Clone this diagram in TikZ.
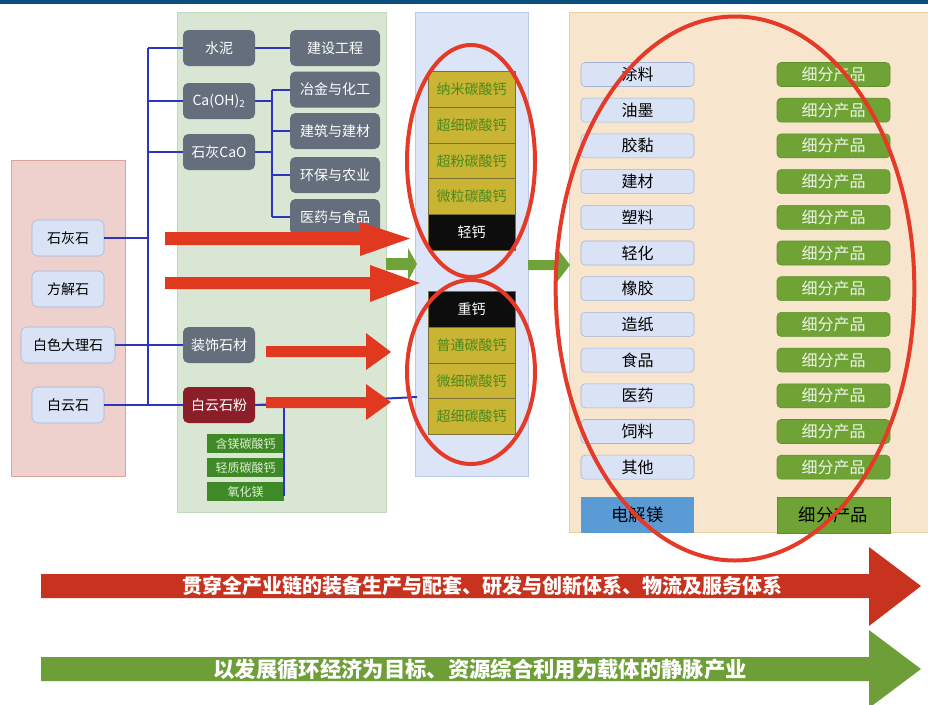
\documentclass[tikz,border=0pt]{standalone}
\usepackage{fontspec}
\setmainfont{Noto Sans CJK SC}
\usetikzlibrary{positioning, calc}
\usepackage{xcolor}
\definecolor{topbar}{HTML}{0B4F7E}
\definecolor{pinkpanel}{HTML}{EED0CD}
\definecolor{pinkedge}{HTML}{DBA39E}
\definecolor{greenpanel}{HTML}{D9E6D3}
\definecolor{greenedge}{HTML}{C3D7BA}
\definecolor{bluepanel}{HTML}{DCE5F7}
\definecolor{blueedge}{HTML}{B9C9E9}
\definecolor{sandpanel}{HTML}{F7E5CD}
\definecolor{sandedge}{HTML}{EACF9F}
\definecolor{srcfill}{HTML}{DAE3F5}
\definecolor{srcedge}{HTML}{A3B4D8}
\definecolor{procgray}{HTML}{646E7C}
\definecolor{dolored}{HTML}{8B1E28}
\definecolor{minigreen}{HTML}{3F8A26}
\definecolor{minitext}{HTML}{DDEED0}
\definecolor{cellolive}{HTML}{C9B434}
\definecolor{celledge}{HTML}{7C7034}
\definecolor{cellgreen}{HTML}{4A8A1C}
\definecolor{subgreen}{HTML}{6FA336}
\definecolor{subedge}{HTML}{5E8F2A}
\definecolor{subtext}{HTML}{EEF5E6}
\definecolor{mgblue}{HTML}{5B9BD5}
\definecolor{linkblue}{HTML}{2B35C0}
\definecolor{arrred}{HTML}{E0391F}
\definecolor{ringred}{HTML}{E53A28}
\definecolor{arrgreen}{HTML}{6FA33A}
\definecolor{bandred}{HTML}{C7331F}
\definecolor{bandgreen}{HTML}{6E9E37}

\begin{document}
\begin{tikzpicture}[x=0.75pt, y=-0.75pt,
    src/.style={draw=srcedge, fill=srcfill, rounded corners=4pt, inner sep=0pt,
                minimum width=54pt, minimum height=27pt, font=\fontsize{10.5}{12}\selectfont},
    proc/.style={fill=procgray, text=white, rounded corners=4pt, inner sep=0pt,
                 minimum width=54pt, minimum height=27pt, font=\fontsize{10.5}{12}\selectfont},
    usebox/.style={proc, minimum width=67.5pt},
    mini/.style={fill=minigreen, text=minitext, inner sep=0pt, minimum width=57.75pt,
                 minimum height=14.25pt, font=\fontsize{9}{10}\selectfont},
    cell/.style={fill=cellolive, draw=celledge, text=cellgreen, inner sep=0pt,
                 minimum width=65.25pt, minimum height=26.8pt, font=\fontsize{10.5}{12}\selectfont},
    blackcell/.style={cell, fill=black!95, text=white},
    app/.style={draw=srcedge, fill=srcfill, rounded corners=3pt, inner sep=0pt,
                minimum width=84.75pt, minimum height=18pt, font=\fontsize{12}{13}\selectfont},
    sub/.style={app, draw=subedge, fill=subgreen, text=subtext},
    link/.style={draw=linkblue, line width=1.5pt},
    redarr/.style={fill=arrred},
    greenarr/.style={fill=arrgreen},
    ring/.style={draw=ringred, line width=3pt},
    bandtext/.style={text=white, font=\bfseries\fontsize{15}{16}\selectfont}]
  \useasboundingbox (0,0) rectangle (928,704);
  \fill[topbar] (0,0) rectangle (928,4);

  \draw[pinkedge, fill=pinkpanel] (11,160) rectangle (125,476);
  \draw[greenedge, fill=greenpanel] (177,12) rectangle (386,512);
  \draw[blueedge, fill=bluepanel] (415,12) rectangle (528,476);
  \draw[sandedge, fill=sandpanel] (569,12) rectangle (930,532);

  \node[src] (ls) at (68,238) {石灰石};
  \node[src] (fjs) at (68,289) {方解石};
  \node[src, minimum width=70.5pt] (dls) at (68,345) {白色大理石};
  \node[src] (bys) at (68,405) {白云石};

  \node[proc] (sn) at (219,48) {水泥};
  \node[proc] (caoh) at (219,101) {Ca(OH)\textsubscript{2}};
  \node[proc] (cao) at (219,152) {石灰CaO};
  \node[proc] (zsh) at (219,345) {装饰石材};
  \node[proc, fill=dolored] (bysf) at (219,405) {白云石粉};

  \node[usebox] (jsgc) at (335,48) {建设工程};
  \node[usebox] (yjhg) at (335,89.5) {冶金与化工};
  \node[usebox] (jzjc) at (335,131) {建筑与建材};
  \node[usebox] (hbny) at (335,175) {环保与农业};
  \node[usebox] (yysp) at (335,217) {医药与食品};

  \node[mini] (hmg) at (245.5,443.5) {含镁碳酸钙};
  \node[mini] (qzh) at (245.5,467.5) {轻质碳酸钙};
  \node[mini] (yhm) at (245.5,491.5) {氧化镁};

  \coordinate (bustop) at (148,48);
  \coordinate (busbot) at (148,405);
  \coordinate (forktop) at (272,89.5);
  \coordinate (forkbot) at (272,217);
  \coordinate (midin) at (417,397);
  \draw[link] (bustop) -- (busbot);
  \draw[link] (ls.east) -- (ls.east -| bustop);
  \draw[link] (bustop) -- (sn.west);
  \draw[link] (caoh.west -| bustop) -- (caoh.west);
  \draw[link] (cao.west -| bustop) -- (cao.west);
  \draw[link] (dls.east) -- (zsh.west);
  \draw[link] (bys.east) -- (bysf.west);
  \draw[link] (sn.east) -- (jsgc.west);
  \draw[link] (forktop) -- (forkbot);
  \draw[link] (caoh.east) -- (caoh.east -| forktop);
  \draw[link] (cao.east) -- (cao.east -| forktop);
  \draw[link] (forktop) -- (yjhg.west);
  \draw[link] (jzjc.west -| forktop) -- (jzjc.west);
  \draw[link] (hbny.west -| forktop) -- (hbny.west);
  \draw[link] (forkbot) -- (yysp.west);
  \draw[link] (bysf.east) -| ($(yhm.east)+(0,4)$);
  \draw[link] (bysf.east) -- (midin);

  \node[cell] (nm) at (471.5,89.5) {纳米碳酸钙};
  \node[cell] (cx) at (471.5,125.2) {超细碳酸钙};
  \node[cell] (cf) at (471.5,160.9) {超粉碳酸钙};
  \node[cell] (wl) at (471.5,196.6) {微粒碳酸钙};
  \node[blackcell] (qg) at (471.5,232.3) {轻钙};
  \node[blackcell] (zg) at (471.5,309.5) {重钙};
  \node[cell] (pt) at (471.5,345.2) {普通碳酸钙};
  \node[cell] (wx) at (471.5,380.9) {微细碳酸钙};
  \node[cell] (cx2) at (471.5,416.6) {超细碳酸钙};

  \node[app] (tl) at (637.5,74.5) {涂料};
  \node[sub] (s1) at (833.5,74.5) {细分产品};
  \node[app] (ym) at (637.5,110.2) {油墨};
  \node[sub] (s2) at (833.5,110.2) {细分产品};
  \node[app] (jn) at (637.5,145.9) {胶黏};
  \node[sub] (s3) at (833.5,145.9) {细分产品};
  \node[app] (jc) at (637.5,181.6) {建材};
  \node[sub] (s4) at (833.5,181.6) {细分产品};
  \node[app] (sl) at (637.5,217.3) {塑料};
  \node[sub] (s5) at (833.5,217.3) {细分产品};
  \node[app] (qh) at (637.5,253) {轻化};
  \node[sub] (s6) at (833.5,253) {细分产品};
  \node[app] (xj) at (637.5,288.7) {橡胶};
  \node[sub] (s7) at (833.5,288.7) {细分产品};
  \node[app] (zz) at (637.5,324.4) {造纸};
  \node[sub] (s8) at (833.5,324.4) {细分产品};
  \node[app] (sp) at (637.5,360.1) {食品};
  \node[sub] (s9) at (833.5,360.1) {细分产品};
  \node[app] (yy) at (637.5,395.8) {医药};
  \node[sub] (s10) at (833.5,395.8) {细分产品};
  \node[app] (sll) at (637.5,431.5) {饲料};
  \node[sub] (s11) at (833.5,431.5) {细分产品};
  \node[app] (qt) at (637.5,467.2) {其他};
  \node[sub] (s12) at (833.5,467.2) {细分产品};
  \node[app, rounded corners=0pt, draw=none, fill=mgblue, minimum height=27pt,
        font=\fontsize{13}{14}\selectfont] (djm) at (637.5,515) {电解镁};
  \node[sub, rounded corners=0pt, text=black, minimum height=27pt,
        font=\fontsize{13}{14}\selectfont] (s13) at (833.5,515) {细分产品};

  \fill[greenarr] (386,258) -- (408,258) -- (408,248) -- (417,264) -- (408,281)
                  -- (408,270) -- (386,270) -- cycle;
  \fill[greenarr] (528,260) -- (557,260) -- (557,248) -- (570,265) -- (557,282)
                  -- (557,270) -- (528,270) -- cycle;

  \fill[redarr] (165,232) -- (360,232) -- (360,222) -- (410,238.5) -- (360,256)
                -- (360,245) -- (165,245) -- cycle;
  \fill[redarr] (165,277) -- (370,277) -- (370,265) -- (420,283) -- (370,302)
                -- (370,289) -- (165,289) -- cycle;
  \fill[redarr] (266,346) -- (366,346) -- (366,333) -- (391,352) -- (366,370)
                -- (366,357) -- (266,357) -- cycle;
  \fill[redarr] (266,397) -- (366,397) -- (366,384) -- (391,402) -- (366,420)
                -- (366,408) -- (266,408) -- cycle;

  \draw[ring] (471,161) ellipse [x radius=48pt, y radius=87pt];
  \draw[ring] (471,372) ellipse [x radius=48pt, y radius=69pt];
  \draw[ring] (735,288.5) ellipse [x radius=134.5pt, y radius=204pt];

  \fill[bandred] (41,574) -- (869,574) -- (869,547) -- (921,586) -- (869,626)
                 -- (869,598) -- (41,598) -- cycle;
  \fill[bandgreen] (41,657) -- (869,657) -- (869,630) -- (921,669) -- (869,708)
                   -- (869,681) -- (41,681) -- cycle;
  \node[bandtext] (band1) at (482,586) {贯穿全产业链的装备生产与配套、研发与创新体系、物流及服务体系};
  \node[bandtext, font=\bfseries\fontsize{16}{17}\selectfont] (band2) at (480,669)
    {以发展循环经济为目标、资源综合利用为载体的静脉产业};
\end{tikzpicture}
\end{document}
